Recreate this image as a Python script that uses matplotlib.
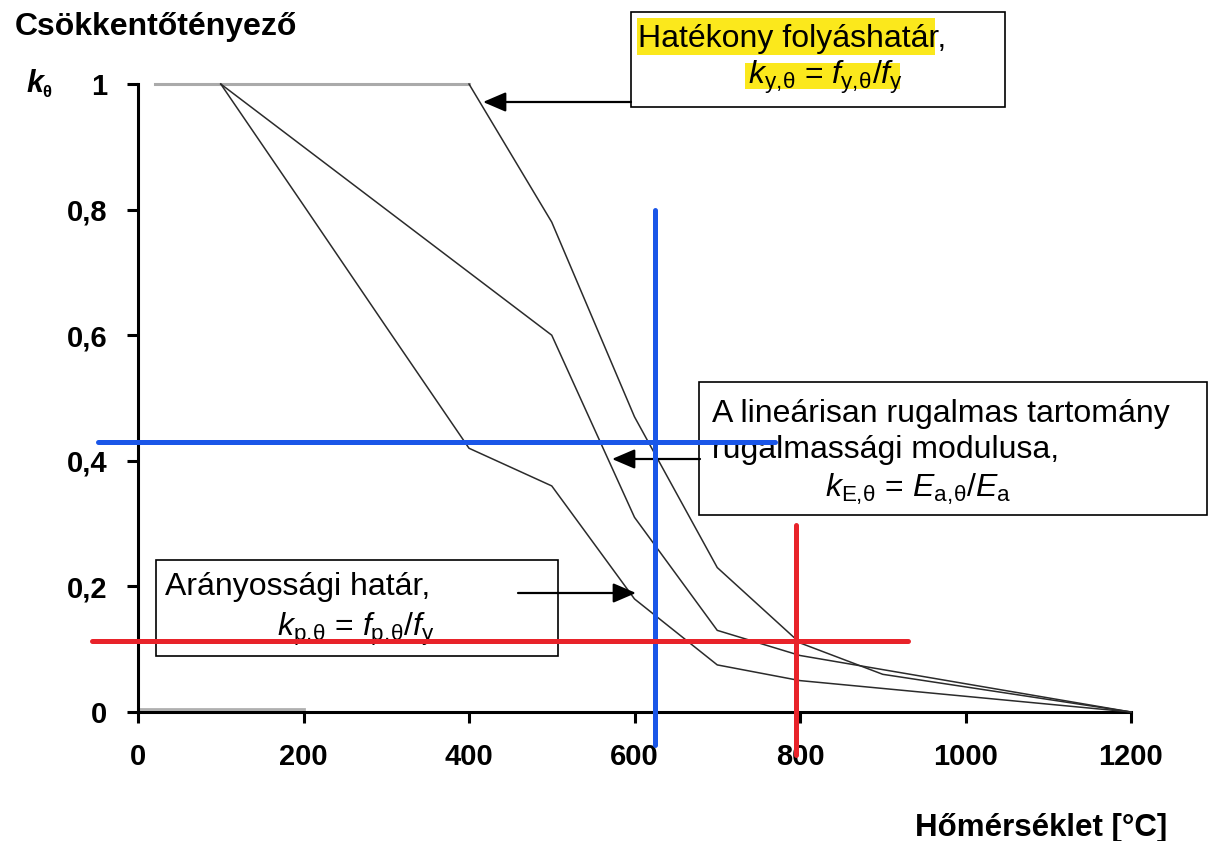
import numpy as np
import matplotlib
matplotlib.use("Agg")
import matplotlib.pyplot as plt
from matplotlib.patches import Rectangle

plt.rcParams['font.family'] = ['Liberation Sans', 'DejaVu Sans']
plt.rcParams['mathtext.fontset'] = 'custom'
plt.rcParams['mathtext.rm'] = 'Liberation Sans'
plt.rcParams['mathtext.it'] = 'Liberation Sans:italic'

# reduction factors of steel (temperature [C] -> k)
temp_y = [400, 500, 600, 700, 800, 900, 1000, 1100, 1200]
k_y = [1.0, 0.78, 0.47, 0.23, 0.11, 0.06, 0.04, 0.02, 0.0]
temp_E = [100, 200, 300, 400, 500, 600, 700, 800, 900, 1000, 1100, 1200]
k_E = [1.0, 0.9, 0.8, 0.7, 0.6, 0.31, 0.13, 0.09, 0.0675, 0.045, 0.0225, 0.0]
temp_p = [100, 200, 300, 400, 500, 600, 700, 800, 900, 1000, 1100, 1200]
k_p = [1.0, 0.807, 0.613, 0.42, 0.36, 0.18, 0.075, 0.05, 0.0375, 0.025, 0.0125, 0.0]
plateau_t = [20, 400]
plateau_k = [1.0, 1.0]
zero_t = [0, 200]
zero_k = [0.004, 0.004]

# reading lines
blue_T, blue_k = 625, 0.43
red_T, red_k = 795, 0.113

xticks = [0, 200, 400, 600, 800, 1000, 1200]
yticks = [0, 0.2, 0.4, 0.6, 0.8, 1.0]
ytick_labels = ['0', '0,2', '0,4', '0,6', '0,8', '1']

W, H = 1232, 841
fig = plt.figure(figsize=(W / 100, H / 100), dpi=100)
ax = fig.add_axes([138 / W, 1 - 712 / H, (1131 - 138) / W, (712 - 84) / H])


def fp(x, y):
    # pixel position (from top left) -> figure fraction
    return (x / W, 1 - y / H)


dark = '#2b2b2b'
ax.plot(zero_t, zero_k, color='#b0b0b0', lw=2, clip_on=False, zorder=1)
ax.plot(plateau_t, plateau_k, color='#aaaaaa', lw=2.2, clip_on=False, zorder=2)
ax.plot(temp_y, k_y, color=dark, lw=1.1, clip_on=False, zorder=3)
ax.plot(temp_E, k_E, color=dark, lw=1.1, clip_on=False, zorder=3)
ax.plot(temp_p, k_p, color=dark, lw=1.1, clip_on=False, zorder=3)

ax.set_xlim(0, 1200)
ax.set_ylim(0, 1)
ax.set_xticks(xticks)
ax.set_xticklabels([str(t) for t in xticks], fontsize=21, fontweight='bold')
ax.set_yticks(yticks)
ax.set_yticklabels(ytick_labels, fontsize=21, fontweight='bold')
ax.tick_params(axis='both', direction='out', length=8, width=2.2)
ax.tick_params(axis='x', pad=14)
ax.tick_params(axis='y', pad=14)
for s in ['top', 'right']:
    ax.spines[s].set_visible(False)
for s in ['left', 'bottom']:
    ax.spines[s].set_linewidth(2.2)

# axis titles
fig.text(*fp(15, 35), 'Csökkentőtényező', fontsize=23, fontweight='bold', va='baseline')
fig.text(*fp(1167, 836), 'Hőmérséklet [°C]', fontsize=22.5, fontweight='bold', ha='right', va='baseline')
fig.text(*fp(26, 92), 'k', fontsize=22, fontweight='bold', style='italic', va='baseline')
fig.text(*fp(42, 97), 'θ', fontsize=12, fontweight='bold', va='baseline')

T = fig.transFigure


def box(x0, y0, x1, y1):
    ax.add_patch(Rectangle(fp(x0, y1), (x1 - x0) / W, (y1 - y0) / H, transform=T,
                           facecolor='white', edgecolor='black', lw=1.2, clip_on=False, zorder=4))


def hl(x0, y0, x1, y1):
    ax.add_patch(Rectangle(fp(x0, y1), (x1 - x0) / W, (y1 - y0) / H, transform=T,
                           facecolor='#fbe81c', edgecolor='none', clip_on=False, zorder=5))


def txt(x, y, s):
    ax.text(*fp(x, y), s, transform=T, fontsize=23, va='baseline', zorder=6)


def arrow(x0, y0, x1, y1):
    ax.annotate('', xy=fp(x1, y1), xytext=fp(x0, y0), xycoords='figure fraction',
                textcoords='figure fraction', zorder=6,
                arrowprops=dict(arrowstyle='-|>,head_length=0.7,head_width=0.3',
                                mutation_scale=20, color='black', lw=1.6,
                                shrinkA=0, shrinkB=0))


# top box
box(631, 12, 1005, 107)
hl(637, 18, 935, 55)
hl(745, 63, 900, 89)
txt(638, 47, 'Hatékony folyáshatár,')
txt(748, 84, r'$k_{\mathrm{y,\!θ}}$ = $f_{\mathrm{y,\!θ}}$/$f_{\mathrm{y}}$')
arrow(631, 102, 483, 102)

# middle box
box(699, 382, 1207, 515)
txt(712, 422, 'A lineárisan rugalmas tartomány')
txt(712, 458, 'rugalmassági modulusa,')
txt(825, 497, r'$k_{\mathrm{E,\!θ}}$ = $E_{\mathrm{a,\!θ}}$/$E_{\mathrm{a}}$')
arrow(700, 459, 612, 459)

# bottom box
box(156, 560, 558, 656)
txt(165, 595, 'Arányossági határ,')
txt(277, 636, r'$k_{\mathrm{p,\!θ}}$ = $f_{\mathrm{p,\!θ}}$/$f_{\mathrm{y}}$')
arrow(518, 593, 636, 593)

# reading lines
lw_c = 3.6
ax.plot([blue_T, blue_T], [-0.053, 0.8], color='#1a56e8', lw=lw_c, solid_capstyle='round', clip_on=False, zorder=7)
ax.plot([-48, 770], [blue_k, blue_k], color='#1a56e8', lw=lw_c, solid_capstyle='round', clip_on=False, zorder=7)
ax.plot([red_T, red_T], [-0.068, 0.298], color='#e8232a', lw=lw_c, solid_capstyle='round', clip_on=False, zorder=7)
ax.plot([-56, 930], [red_k, red_k], color='#e8232a', lw=lw_c, solid_capstyle='round', clip_on=False, zorder=7)

fig.savefig('out.png', dpi=100)
